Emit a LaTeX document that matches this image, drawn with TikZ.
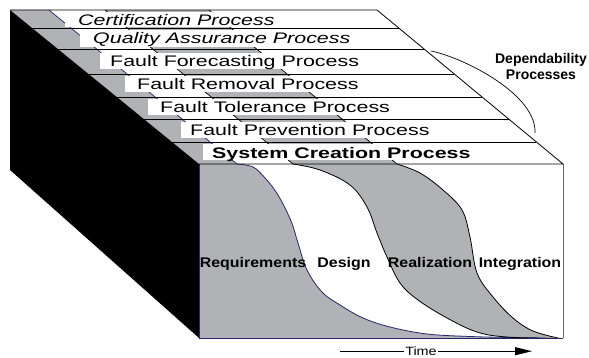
\documentclass[tikz,border=0pt]{standalone}
\usepackage{fontspec}
\setmainfont{Liberation Sans}
\usepackage{graphicx}
\usetikzlibrary{arrows.meta}
\definecolor{boxgray}{RGB}{177,178,181}
\definecolor{navy}{RGB}{40,38,110}
\newcommand\sxa[1]{\scalebox{1.4}[1]{#1}}
\newcommand\sxb[1]{\scalebox{1.14}[1]{#1}}
\newcommand\sxc[1]{\scalebox{1.2}[1]{#1}}
\begin{document}
\begin{tikzpicture}[x=1pt,y=-1pt,
  toplab/.style={inner sep=0pt, anchor=base west, font=\fontsize{15.3}{18}\selectfont},
  facelab/.style={inner sep=0pt, anchor=base, font=\fontsize{14}{16}\selectfont\bfseries},
  edge/.style={line width=0.8pt},
  thin edge/.style={line width=0.7pt}]
\useasboundingbox (0,0) rectangle (589,358);
% ---------- top face ----------
\fill[white] (10,10) -- (377,10) -- (563,164) -- (199,164) -- cycle;
\fill[boxgray] (10,10) -- (49,10) -- (237,164) -- (199,164) -- cycle;
\fill[boxgray] (105,10) -- (209,10) -- (397,164) -- (293,164) -- cycle;
\draw[navy, thin edge] (49,10) -- (237,164);
\draw[thin edge] (105,10) -- (293,164) (209,10) -- (397,164);
\foreach \y in {28,49,74,97,119,142} {
  \draw[thin edge] ({10+1.2273*(\y-10)},\y) -- ({377+1.2078*(\y-10)},\y);
}
% label boxes
\fill[white] (65,12) rectangle (285,27);
\fill[white] (80,30) rectangle (357,47);
\fill[white] (100,53) rectangle (365,69);
\fill[white] (125,76) rectangle (362,92);
\fill[white] (148,99) rectangle (393,115);
\fill[white] (181,122) rectangle (433,138);
\fill[white] (203,144) rectangle (476,160);
\node[toplab] (cert) at (78,26) {\sxa{\itshape Certification Process}};
\node[toplab] (qa) at (93,44) {\sxa{\itshape Quality Assurance Process}};
\node[toplab] (ff) at (110,67) {\sxa{Fault Forecasting Process}};
\node[toplab] (fr) at (137,90) {\sxa{Fault Removal Process}};
\node[toplab] (ft) at (160,113) {\sxa{Fault Tolerance Process}};
\node[toplab] (fp) at (190,136) {\sxa{Fault Prevention Process}};
\node[toplab] (sc) at (212,159) {\sxa{\bfseries System Creation Process}};
% ---------- left (black) face ----------
\fill[black] (10,10) -- (199,164) -- (199,338) -- (10,170) -- cycle;
% ---------- front face ----------
\fill[white] (199,164) rectangle (563,338);
\fill[boxgray] (199,164) -- plot[smooth, tension=0.6] coordinates {(237,164) (253,167) (265,178) (278,195) (291,221) (298,243) (307,270) (322,292) (340,305) (363,318) (390,327) (427,334) (470,336.5) (510,337.5) (545,338)} -- (199,338) -- cycle;
\fill[boxgray] plot[smooth, tension=0.6] coordinates {(293,164) (320,170) (350,185) (367,207) (377,233) (387,257) (400,283) (418,300) (447,318) (477,332) (507,337) (560,338.5)}
  -- plot[smooth, tension=0.6] coordinates {(560,338.5) (533,331) (513,318) (493,297) (477,273) (470,237) (462,210) (443,190) (420,173) (397,164)} -- cycle;
\draw[navy, edge] plot[smooth, tension=0.6] coordinates {(237,164) (253,167) (265,178) (278,195) (291,221) (298,243) (307,270) (322,292) (340,305) (363,318) (390,327) (427,334) (470,336.5) (510,337.5) (545,338)};
\draw[edge] plot[smooth, tension=0.6] coordinates {(293,164) (320,170) (350,185) (367,207) (377,233) (387,257) (400,283) (418,300) (447,318) (477,332) (507,337) (560,338.5)};
\draw[edge] plot[smooth, tension=0.6] coordinates {(397,164) (420,173) (443,190) (462,210) (470,237) (477,273) (493,297) (513,318) (533,331) (560,338.5)};
% outlines
\draw[navy, edge] (199,164) -- (199,338) -- (563,338);
\draw[black!60, thin edge] (563,164) -- (563,338);
\draw[edge] (10,10) -- (377,10) -- (563,164) -- (199,164);
% face labels
\node[facelab] (req) at (253,267) {\sxb{Requirements}};
\node[facelab] (des) at (344,267) {\sxb{Design}};
\node[facelab] (rea) at (430,267) {\sxb{Realization}};
\node[facelab] (int) at (520,267) {\sxb{Integration}};
% dependability brace
\node[font=\fontsize{14}{16}\selectfont\bfseries, align=center, inner sep=0pt, anchor=north] (dep) at (541,53) {Dependability\\Processes};
\coordinate (a1) at (431,51);
\coordinate (a2) at (535,133);
\draw[thin edge] (a1) .. controls (465,58) and (537,95) .. (a2);
% time arrow
\node[font=\fontsize{12}{14}\selectfont, inner sep=1pt, anchor=base] (time) at (421,355.5) {\sxc{Time}};
\coordinate (tl) at (340,351.5);
\coordinate (tr) at (532,351.5);
\draw[line width=0.9pt] (time.west) -- (time.west -| tl);
\draw[line width=0.9pt, -{Triangle[length=17pt,width=8pt]}] (time.east) -- (time.east -| tr);
\end{tikzpicture}
\end{document}
